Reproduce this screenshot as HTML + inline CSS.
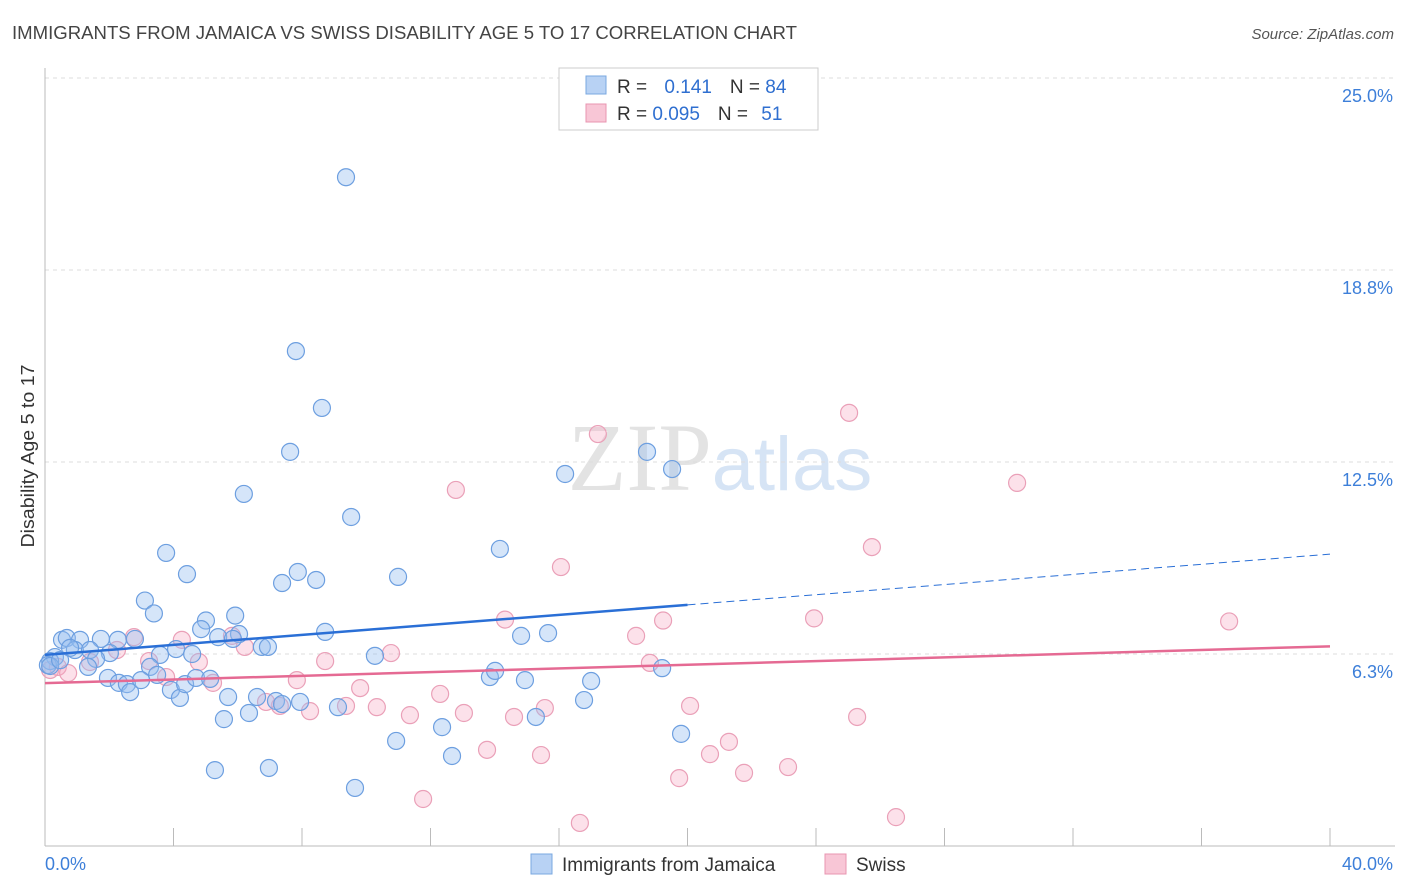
<!DOCTYPE html>
<html><head><meta charset="utf-8">
<style>
body{margin:0;background:#fff;font-family:"Liberation Sans",sans-serif;}
svg{display:block}
</style></head><body>
<svg id="chart" width="1406" height="892" viewBox="0 0 1406 892" xmlns="http://www.w3.org/2000/svg">
<text x="12" y="39" font-size="18" fill="#444" textLength="785" lengthAdjust="spacingAndGlyphs">IMMIGRANTS FROM JAMAICA VS SWISS DISABILITY AGE 5 TO 17 CORRELATION CHART</text>
<text x="1394" y="39" font-size="15" fill="#555" font-style="italic" text-anchor="end">Source: ZipAtlas.com</text>
<text x="720" y="490" font-size="96" text-anchor="middle" font-family="Liberation Serif,serif" fill="#e3e3e3">ZIP<tspan fill="#d6e4f5" font-family="Liberation Sans,sans-serif" font-size="76">atlas</tspan></text>
<text transform="translate(34,456) rotate(-90)" font-size="18" fill="#333" text-anchor="middle" textLength="183" lengthAdjust="spacingAndGlyphs">Disability Age 5 to 17</text>
<g id="grid"></g><g id="axes"></g><g id="pink"></g><g id="blue"></g><g id="trends"></g>
<g>
<rect x="559" y="68" width="259" height="62" fill="#fff" stroke="#ccc"/>
<rect x="586" y="76" width="20" height="18" fill="#b8d2f4" stroke="#7aa8e0"/>
<rect x="586" y="104" width="20" height="18" fill="#f8c6d6" stroke="#e895b0"/>
<text x="617" y="93" font-size="19" fill="#333">R = <tspan fill="#2f6fd0" dx="12">0.141</tspan><tspan dx="18" fill="#333">N = </tspan><tspan fill="#2f6fd0">84</tspan></text>
<text x="617" y="120" font-size="19" fill="#333">R = <tspan fill="#2f6fd0">0.095</tspan><tspan dx="18" fill="#333">N = </tspan><tspan fill="#2f6fd0" dx="8">51</tspan></text>
</g>
<g>
<rect x="531" y="854" width="21" height="20" fill="#b8d2f4" stroke="#7aa8e0"/>
<text x="562" y="871" font-size="19" fill="#333">Immigrants from Jamaica</text>
<rect x="825" y="854" width="21" height="20" fill="#f8c6d6" stroke="#e895b0"/>
<text x="856" y="871" font-size="19" fill="#333">Swiss</text>
</g>
</svg>
<script>
const yTicks=[6.25,12.5,18.75,25];
const yTickLabels=["6.3%","12.5%","18.8%","25.0%"];
const xTicks=[0,4,8,12,16,20,24,28,32,36,40];
const blueX=[9.37,7.81,8.62,7.63,6.19,9.53,3.77,14.16,16.19,18.74,19.52,4.42,7.87,7.38,8.44,10.99,3.11,3.39,5.01,5.92,4.86,6.04,5.39,5.85,8.72,14.82,15.66,0.53,0.68,1.09,1.74,2.27,2.80,0.93,1.40,0.78,0.31,0.16,0.09,2.02,1.59,1.34,3.58,4.08,4.58,6.75,6.94,10.27,3.27,3.49,1.96,2.30,2.55,2.65,2.99,3.92,4.20,4.36,4.70,5.14,5.70,6.60,7.19,7.38,7.94,9.12,5.57,6.35,10.93,12.36,12.67,5.29,6.97,9.65,13.85,14.01,14.94,15.28,17.00,16.78,19.21,19.80,0.16,0.47];
const blueY=[21.77,16.11,14.26,12.83,11.46,10.71,9.54,9.67,12.11,12.83,12.27,8.85,8.92,8.56,8.66,8.76,7.99,7.57,7.34,7.50,7.06,6.90,6.80,6.74,6.97,6.84,6.93,6.71,6.77,6.71,6.74,6.71,6.74,6.38,6.38,6.45,6.15,6.02,5.89,6.28,6.09,5.83,6.22,6.41,6.25,6.48,6.48,6.19,5.83,5.57,5.47,5.31,5.27,5.01,5.40,5.08,4.82,5.27,5.47,5.44,4.85,4.85,4.72,4.62,4.69,4.52,4.13,4.33,3.42,3.87,2.93,2.47,2.54,1.89,5.50,5.70,5.40,4.20,5.37,4.75,5.79,3.65,5.86,6.05];
const pinkX=[25.03,17.21,12.79,30.26,25.74,16.06,36.86,23.94,19.24,14.32,18.40,4.26,5.82,6.22,2.77,2.24,4.79,3.24,3.77,5.23,7.84,8.72,10.77,18.83,9.81,12.30,9.37,10.33,8.25,7.31,6.88,11.36,13.04,14.60,15.56,20.08,25.28,13.76,15.44,20.70,21.29,19.74,21.76,23.13,11.77,16.65,26.49,0.16,0.40,0.72,1.40];
const pinkY=[14.10,13.41,11.59,11.82,9.73,9.08,7.31,7.41,7.34,7.37,6.84,6.71,6.84,6.48,6.80,6.38,5.99,6.02,5.50,5.31,5.40,6.02,6.28,5.96,5.14,4.95,4.56,4.52,4.39,4.56,4.69,4.26,4.33,4.20,4.49,4.56,4.20,3.13,2.96,2.99,3.39,2.21,2.38,2.57,1.53,0.75,0.94,5.73,5.83,5.63,5.99];
const blueTrend=[[0,6.22],[20,7.85],[40,9.5]];
const pinkTrend=[[0,5.3],[40,6.5]];
const NS="http://www.w3.org/2000/svg";
const X=v=>45+v/40*1285, Y=v=>846-v*30.72;
function mk(tag,attrs,parent){const e=document.createElementNS(NS,tag);for(const k in attrs)e.setAttribute(k,attrs[k]);document.getElementById(parent).appendChild(e);return e;}
yTicks.forEach((t,i)=>{
 const l=mk('line',{x1:45,x2:1395,y1:Y(t),y2:Y(t),stroke:'#ddd','stroke-dasharray':'4,4'},'grid');
 
 
 const tx=mk('text',{x:1393,y:Y(t)+24,'font-size':18,fill:'#3d7fd9','text-anchor':'end'},'grid');tx.textContent=yTickLabels[i];
 
 
});
const gl=mk('line',{x1:45,x2:1395,y1:78,y2:78,stroke:'#ddd','stroke-dasharray':'4,4'},'grid');


const ax=mk('line',{x1:45,x2:1395,y1:846,y2:846,stroke:'#bbb'},'axes');


const ay=mk('line',{x1:45,x2:45,y1:68,y2:846,stroke:'#bbb'},'axes');


xTicks.forEach(t=>{const l=mk('line',{x1:X(t),x2:X(t),y1:828,y2:846,stroke:'#bbb'},'axes');
 
 });
const xl0=mk('text',{x:45,y:870,'font-size':18,fill:'#3d7fd9'},'axes');xl0.textContent='0.0%';


const xl1=mk('text',{x:1393,y:870,'font-size':18,fill:'#3d7fd9','text-anchor':'end'},'axes');xl1.textContent='40.0%';


pinkX.forEach((x,i)=>{const c=mk('circle',{cx:X(x),cy:Y(pinkY[i]),r:8.5,fill:'rgba(245,170,195,0.35)',stroke:'#eaa0b8','stroke-width':1.2},'pink');
 
 });
blueX.forEach((x,i)=>{const c=mk('circle',{cx:X(x),cy:Y(blueY[i]),r:8.5,fill:'rgba(150,190,240,0.4)',stroke:'#6d9fe0','stroke-width':1.2},'blue');
 
 });
const b1=mk('line',{x1:X(blueTrend[0][0]),y1:Y(blueTrend[0][1]),x2:X(blueTrend[1][0]),y2:Y(blueTrend[1][1]),stroke:'#2a6fd6','stroke-width':2.5},'trends');


const b2=mk('line',{x1:X(blueTrend[1][0]),y1:Y(blueTrend[1][1]),x2:X(blueTrend[2][0]),y2:Y(blueTrend[2][1]),stroke:'#2a6fd6','stroke-width':1,'stroke-dasharray':'8,5'},'trends');


const p1=mk('line',{x1:X(pinkTrend[0][0]),y1:Y(pinkTrend[0][1]),x2:X(pinkTrend[1][0]),y2:Y(pinkTrend[1][1]),stroke:'#e56a93','stroke-width':2.5},'trends');


</script>
</body></html>
